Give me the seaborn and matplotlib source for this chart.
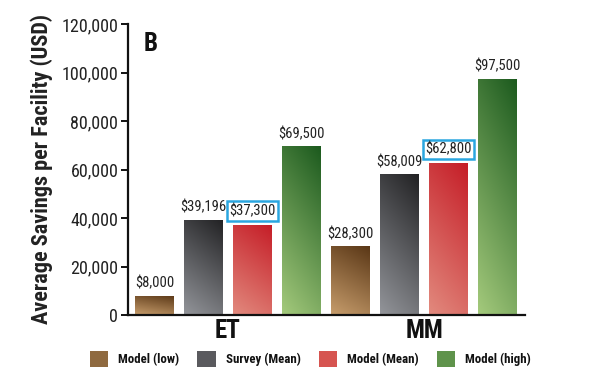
import numpy as np
import pandas as pd
import matplotlib
matplotlib.use("Agg")
import matplotlib.pyplot as plt
import seaborn as sns
from matplotlib.patches import Rectangle
from matplotlib.colors import LinearSegmentedColormap

groups = ["ET", "MM"]
series = ["Model (low)", "Survey (Mean)", "Model (Mean)", "Model (high)"]
values = {
    "Model (low)": [8000, 28300],
    "Survey (Mean)": [39196, 58009],
    "Model (Mean)": [37300, 62800],
    "Model (high)": [69500, 97500],
}
yticks = [0, 20000, 40000, 60000, 80000, 100000, 120000]

dark = {"Model (low)": "#5a3716", "Survey (Mean)": "#222224",
        "Model (Mean)": "#c51d27", "Model (high)": "#1c5a1e"}
light = {"Model (low)": "#c79d6c", "Survey (Mean)": "#93959a",
         "Model (Mean)": "#e28a7e", "Model (high)": "#a4ca7c"}
mid = {"Model (low)": "#8f6a40", "Survey (Mean)": "#5a5a5e",
       "Model (Mean)": "#d65450", "Model (high)": "#5f934b"}

rows = []
for s in series:
    for g, v in zip(groups, values[s]):
        rows.append({"group": g, "series": s, "value": v})
df = pd.DataFrame(rows)

sns.set_style("white")
plt.rcParams["font.family"] = ["Roboto Condensed", "DejaVu Sans"]

fig = plt.figure(figsize=(6, 3.84), dpi=100)
ax = fig.add_axes([128 / 600, 1 - 315 / 384, (525 - 128) / 600, (315 - 24) / 384])

sns.barplot(data=df, x="group", y="value", hue="series", order=groups,
            hue_order=series, palette=mid, width=1.0, gap=0.22, ax=ax,
            legend=False, saturation=1)

# gradient fill: dark at top-right, light at bottom-left
yy, xx = np.mgrid[0:1:100j, 0:1:100j]
grad = np.clip(0.75 * yy + 0.25 * xx, 0, 1)
for s, cont in zip(series, ax.containers):
    cmap = LinearSegmentedColormap.from_list(s, [light[s], dark[s]])
    for bar, v in zip(cont.patches, values[s]):
        x0, y0 = bar.get_x(), bar.get_y()
        w, h = bar.get_width(), bar.get_height()
        im = ax.imshow(grad, cmap=cmap, extent=[x0, x0 + w, y0, y0 + h],
                       origin="lower", aspect="auto", zorder=bar.get_zorder() + 0.1,
                       interpolation="bilinear")
        im.set_clip_path(bar)
        label = "${:,}".format(v)
        if s == "Model (Mean)":
            ax.text(x0 + w / 2, y0 + h + 2600, label, ha="center", va="bottom",
                    fontsize=10.5, color="#222222",
                    bbox=dict(boxstyle="square,pad=0.18", facecolor="white",
                              edgecolor="#2aa6e0", linewidth=1.8))
        else:
            ax.text(x0 + w / 2, y0 + h + 2200, label, ha="center", va="bottom",
                    fontsize=10.5, color="#222222")

ax.set_xlim(-0.51, 1.515)
ax.set_ylim(0, 120000)

for sp in ["top", "right"]:
    ax.spines[sp].set_visible(False)
for sp in ["left", "bottom"]:
    ax.spines[sp].set_color("#111111")
    ax.spines[sp].set_linewidth(1.6)

ax.set_yticks(yticks)
ax.set_yticklabels(["{:,}".format(t) for t in yticks], fontsize=13, color="#222222")
ax.tick_params(axis="y", direction="out", length=5, width=1.4, color="#111111", left=True, pad=2)
ax.tick_params(axis="x", length=0, labelsize=18, pad=3)
for t in ax.get_xticklabels():
    t.set_fontweight("bold")
    t.set_color("#111111")
ax.set_xlabel("")
ax.set_ylabel("Average Savings per Facility (USD)", fontsize=16, fontweight="bold",
              color="#222222", labelpad=6)

ax.text(0.04, 0.93, "B", transform=ax.transAxes, fontsize=18, fontweight="bold",
        color="#111111", ha="left", va="center")

handles = [Rectangle((0, 0), 1, 1, facecolor=mid[s], edgecolor="none") for s in series]
fig.legend(handles, series, loc="center", bbox_to_anchor=(0.517, 0.065), ncol=4,
           frameon=False, handlelength=1.45, handleheight=1.45, columnspacing=1.4,
           handletextpad=0.75, labelcolor="#111111",
           prop={"weight": "bold", "size": 9.3})

fig.savefig("out.png", dpi=100)
